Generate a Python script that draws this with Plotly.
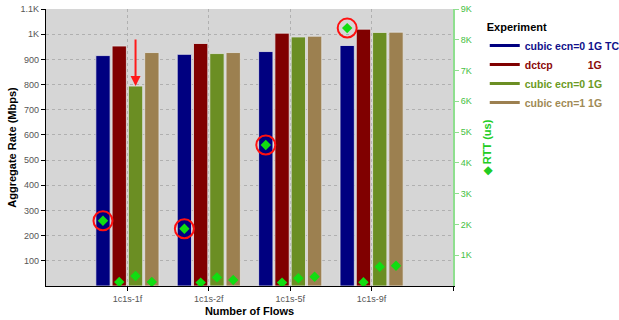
import plotly.graph_objects as go

# Flow configurations on the x axis
categories = ["1c1s-1f", "1c1s-2f", "1c1s-5f", "1c1s-9f"]

# Experiments (series) and their display colours
series_names = ["cubic ecn=0 1G TC", "dctcp", "cubic ecn=0 1G", "cubic ecn=1 1G"]
legend_labels = [
    "cubic ecn=0 1G TC",
    "dctcp" + "\u00a0" * 12 + "1G",
    "cubic ecn=0 1G",
    "cubic ecn=1 1G",
]
bar_colors = ["#000080", "#800000", "#6b8e23", "#9c8050"]
legend_text_colors = ["#10108a", "#8b0a0a", "#6b9a23", "#a08a55"]

# Aggregate rate (Mbps) per experiment, one value per flow configuration
rate_tc = [915, 920, 931, 955]
rate_dctcp = [953, 963, 1004, 1020]
rate_ecn0 = [794, 923, 989, 1007]
rate_ecn1 = [927, 927, 992, 1008]
rates = [rate_tc, rate_dctcp, rate_ecn0, rate_ecn1]

# RTT (us) per experiment, one value per flow configuration
rtt_tc = [2120, 1860, 4580, 8380]
rtt_dctcp = [130, 110, 110, 120]
rtt_ecn0 = [325, 280, 250, 625]
rtt_ecn1 = [130, 195, 300, 660]
rtts = [rtt_tc, rtt_dctcp, rtt_ecn0, rtt_ecn1]

# Axis tick labels
rate_ticks = [100, 200, 300, 400, 500, 600, 700, 800, 900, 1000, 1100]
rate_tick_text = ["100", "200", "300", "400", "500", "600", "700", "800", "900", "1K", "1.1K"]
rtt_ticks = [1000, 2000, 3000, 4000, 5000, 6000, 7000, 8000, 9000]
rtt_tick_text = ["1K", "2K", "3K", "4K", "5K", "6K", "7K", "8K", "9K"]

BARGAP = 0.2
n_series = len(series_names)
slot = (1 - BARGAP) / n_series
positions = list(range(len(categories)))

fig = go.Figure()

# Grouped bars for the aggregate rate
for name, vals, col in zip(series_names, rates, bar_colors):
    fig.add_trace(go.Bar(
        x=positions, y=vals, name=name, marker=dict(color=col, line=dict(color="#e4e4e4", width=0.8)),
        showlegend=False, yaxis="y",
    ))

def bar_centres(j):
    return [p + (j - (n_series - 1) / 2) * slot for p in positions]

# Red rings highlighting the TC RTT points
fig.add_trace(go.Scatter(
    x=bar_centres(0), y=rtt_tc, mode="markers", yaxis="y2", showlegend=False,
    marker=dict(symbol="circle-open", size=19, color="#ff1010", line=dict(width=2, color="#ff1010")),
    hoverinfo="skip",
))

# RTT diamonds centred on each bar
for j, vals in enumerate(rtts):
    fig.add_trace(go.Scatter(
        x=bar_centres(j), y=vals, mode="markers", yaxis="y2", showlegend=False,
        marker=dict(symbol="diamond", size=8, color="#11dd11"),
        name=series_names[j] + " RTT",
    ))

# Legend entries drawn as short coloured lines
for lab, col, tcol in zip(legend_labels, bar_colors, legend_text_colors):
    fig.add_trace(go.Scatter(
        x=[None], y=[None], mode="lines", line=dict(color=col, width=3),
        name=f"<span style='color:{tcol}'>{lab}</span>",
    ))

# Arrow pointing at the top of the ecn=0 bar in the first group
fig.add_annotation(
    x=bar_centres(2)[0], y=rate_ecn0[0], xref="x", yref="y",
    ax=bar_centres(2)[0], ay=985, axref="x", ayref="y",
    showarrow=True, arrowhead=2, arrowsize=1, arrowwidth=2, arrowcolor="#ff1a1a",
    standoff=0, text="",
)

tick_font = dict(family="Arial", size=9, color="#555555")

fig.update_layout(
    width=619, height=320,
    margin=dict(l=46, r=166, t=9, b=34, autoexpand=False),
    paper_bgcolor="white",
    plot_bgcolor="#d6d6d6",
    barmode="group", bargap=BARGAP, bargroupgap=0.12,
    font=dict(family="Arial", color="#000000"),
    xaxis=dict(
        range=[-1, 4], tickmode="array", tickvals=positions + [4], ticktext=categories + [""],
        showgrid=True, gridcolor="#b0b0b0", griddash="dot", gridwidth=1,
        showline=True, linecolor="#000000", linewidth=1.2,
        ticks="outside", ticklen=4, tickcolor="#000000", tickfont=tick_font,
        title=dict(text="Number of Flows", font=dict(size=11, weight="bold"), standoff=4),
        zeroline=False, automargin=False,
    ),
    yaxis=dict(
        range=[0, 1100], tickmode="array", tickvals=rate_ticks, ticktext=rate_tick_text,
        showgrid=True, gridcolor="#b0b0b0", griddash="dot", gridwidth=1,
        showline=True, linecolor="#000000", linewidth=1.2,
        ticks="outside", ticklen=4, tickcolor="#000000", tickfont=tick_font,
        title=dict(text="Aggregate Rate (Mbps)", font=dict(size=11, weight="bold"), standoff=1),
        zeroline=False, automargin=False,
    ),
    yaxis2=dict(
        range=[0, 9000], overlaying="y", side="right",
        tickmode="array", tickvals=rtt_ticks, ticktext=rtt_tick_text,
        showgrid=False, zeroline=False, automargin=False,
        showline=True, linecolor="#8fdf8f", linewidth=2,
        ticks="outside", ticklen=4, tickcolor="#8fdf8f",
        tickfont=dict(family="Arial", size=9, color="#44c044"),
        title=dict(text="\u25c6 RTT (us)", font=dict(size=11, weight="bold", color="#22cc22"), standoff=12),
    ),
    legend=dict(
        x=1.078, y=0.972, xanchor="left", yanchor="top",
        bgcolor="rgba(0,0,0,0)",
        title=dict(text="Experiment", font=dict(size=11, weight="bold", color="#000000")),
        font=dict(family="Arial", size=10.5, weight="bold"),
        itemwidth=30, tracegroupgap=0,
    ),
)

fig.write_html("out.html")
